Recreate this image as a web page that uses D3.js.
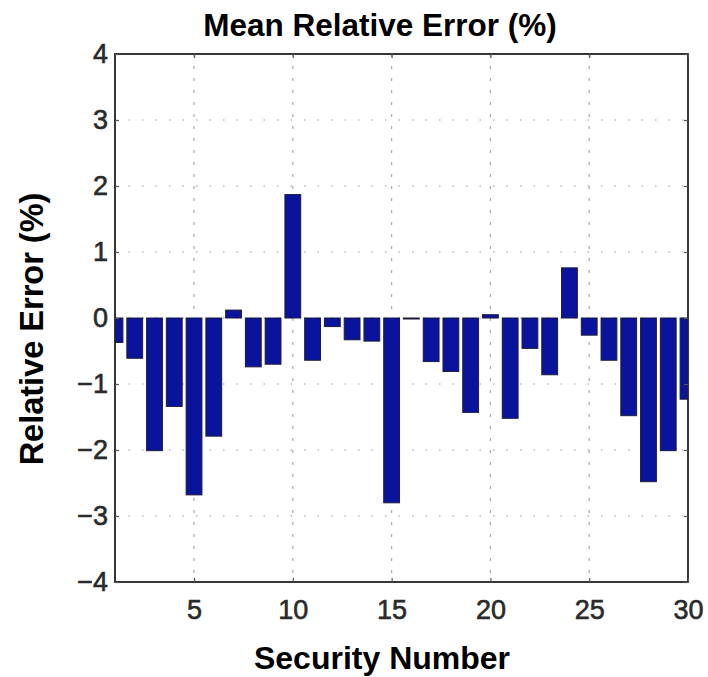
<!DOCTYPE html>
<html>
<head>
<meta charset="utf-8">
<script src="https://cdn.jsdelivr.net/npm/d3@7"></script>
<style>
  html, body { margin: 0; padding: 0; background: #fff; }
  svg text { font-family: "Liberation Sans", Arial, sans-serif; }
</style>
</head>
<body>
<svg id="chart" width="708" height="677"></svg>
<script>
const securities = d3.range(1, 31);
const errors = [
  -0.37, -0.61, -2.01, -1.34, -2.68, -1.79, 0.12, -0.74, -0.70, 1.87,
  -0.64, -0.13, -0.33, -0.35, -2.80, -0.01, -0.66, -0.81, -1.43, 0.05,
  -1.52, -0.46, -0.86, 0.76, -0.26, -0.64, -1.48, -2.48, -2.01, -1.23
];
const xTicks = [5, 10, 15, 20, 25, 30];
const yTicks = [-4, -3, -2, -1, 0, 1, 2, 3, 4];
const titleText = "Mean Relative Error (%)";
const xLabel = "Security Number";
const yLabel = "Relative Error (%)";

const svg = d3.select("#chart");
const pLeft = 115, pRight = 688, pTop = 54, pBottom = 582;

const x = d3.scaleLinear().domain([1, 30]).range([pLeft, pRight]);
const y = d3.scaleLinear().domain([-4, 4]).range([pBottom, pTop]);
const barW = (x(2) - x(1)) * 0.8;

const defs = svg.append("defs");
defs.append("clipPath").attr("id", "clip")
  .append("rect").attr("x", pLeft).attr("y", pTop)
  .attr("width", pRight - pLeft).attr("height", pBottom - pTop);

// grid
const grid = svg.append("g");
grid.selectAll("line.h").data(yTicks.filter(d => d > -4 && d < 4)).join("line")
  .attr("x1", pLeft).attr("x2", pRight)
  .attr("y1", d => y(d)).attr("y2", d => y(d))
  .attr("stroke", "#999").attr("stroke-width", 1.2)
  .attr("stroke-dasharray", "1.5,12");
grid.selectAll("line.v").data(xTicks.filter(d => d < 30)).join("line")
  .attr("x1", d => x(d)).attr("x2", d => x(d))
  .attr("y1", pTop).attr("y2", pBottom)
  .attr("stroke", "#aaa").attr("stroke-width", 1.2)
  .attr("stroke-dasharray", "3,9");

// bars
svg.append("g").attr("clip-path", "url(#clip)")
  .selectAll("rect").data(securities).join("rect")
  .attr("x", (d) => x(d) - barW / 2)
  .attr("width", barW)
  .attr("y", (d, i) => Math.min(y(errors[i]), y(0)))
  .attr("height", (d, i) => Math.max(Math.abs(y(errors[i]) - y(0)), 1))
  .attr("fill", "#0a139c")
  .attr("stroke", "#1c1c3a")
  .attr("stroke-width", 1);

// frame
svg.append("rect").attr("x", pLeft).attr("y", pTop)
  .attr("width", pRight - pLeft).attr("height", pBottom - pTop)
  .attr("fill", "none").attr("stroke", "#222").attr("stroke-width", 1.8);

// axes (inner ticks)
const yAxis = d3.axisLeft(y).tickValues(yTicks).tickSize(-4).tickPadding(7)
  .tickFormat(d => d < 0 ? "\u2212" + Math.abs(d) : d);
const gy = svg.append("g").attr("transform", `translate(${pLeft},0)`).call(yAxis);
const yAxisR = d3.axisRight(y).tickValues(yTicks).tickSize(-4).tickFormat("");
const gyr = svg.append("g").attr("transform", `translate(${pRight},0)`).call(yAxisR);
const xAxis = d3.axisBottom(x).tickValues(xTicks).tickSize(-4).tickPadding(18);
const gx = svg.append("g").attr("transform", `translate(0,${pBottom})`).call(xAxis);
const xAxisT = d3.axisTop(x).tickValues(xTicks).tickSize(-4).tickFormat("");
const gxt = svg.append("g").attr("transform", `translate(0,${pTop})`).call(xAxisT);

[gy, gyr, gx, gxt].forEach(g => {
  g.select(".domain").remove();
  g.selectAll(".tick line").attr("stroke", "#555").attr("stroke-width", 1.2);
  g.selectAll("text").attr("font-size", 27).attr("font-weight", "normal")
    .attr("fill", "#2a2a2a").attr("stroke", "#2a2a2a").attr("stroke-width", 0.6);
});

// titles
svg.append("text").attr("x", 380).attr("y", 36)
  .attr("text-anchor", "middle").attr("font-size", 31.5).attr("font-weight", "bold")
  .attr("fill", "#000").text(titleText);
svg.append("text").attr("x", 382).attr("y", 669)
  .attr("text-anchor", "middle").attr("font-size", 32).attr("font-weight", "bold")
  .attr("fill", "#000").text(xLabel);
svg.append("text")
  .attr("transform", `translate(43,329) rotate(-90)`)
  .attr("text-anchor", "middle").attr("font-size", 32.5).attr("font-weight", "bold")
  .attr("fill", "#000").text(yLabel);
</script>
</body>
</html>
